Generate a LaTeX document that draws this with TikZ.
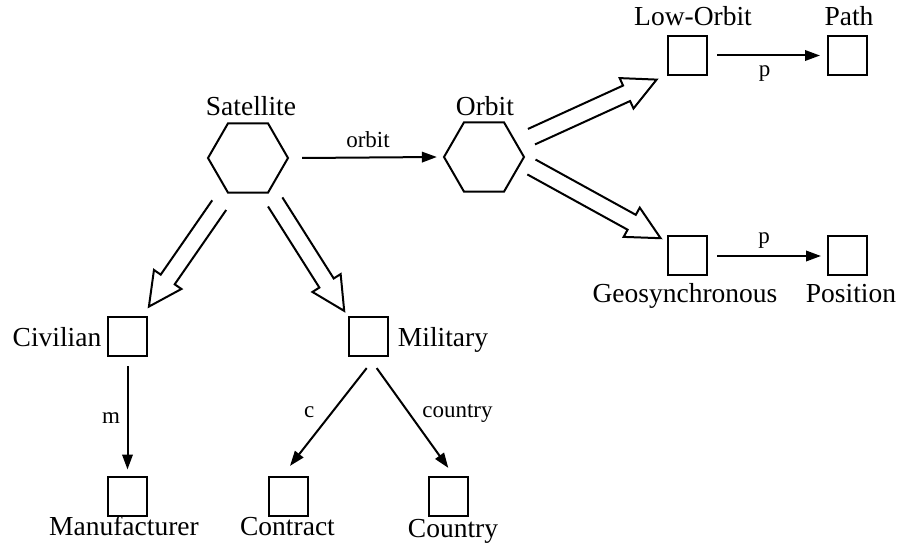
\documentclass[tikz,border=0pt]{standalone}
\usepackage{fontspec}
\setmainfont{Liberation Serif}
\usetikzlibrary{shapes.geometric,arrows.meta,calc}

% Outlined (hollow) generalisation arrow from tail point #1 to tip point #2
\newcommand{\hollowarrow}[2]{%
  \coordinate (#1-neck) at ($(#2)!33pt!(#1)$);
  \draw[hollowtip] ($(#1)!8.5pt!90:(#2)$)
    -- ($(#1-neck)!8.5pt!90:(#2)$)
    -- ($(#1-neck)!16.7pt!90:(#2)$)
    -- (#2)
    -- ($(#1-neck)!16.7pt!-90:(#2)$)
    -- ($(#1-neck)!8.5pt!-90:(#2)$)
    -- ($(#1)!8.5pt!-90:(#2)$);}

\begin{document}
\begin{tikzpicture}[x=1pt,y=-1pt,line width=2pt,
  classbox/.style={draw,minimum size=39pt,inner sep=0pt},
  classhex/.style={draw,regular polygon,regular polygon sides=6,minimum size=80pt,inner sep=0pt},
  clsname/.style={font=\fontsize{27.5}{30}\selectfont,inner sep=0pt,anchor=base},
  rolelbl/.style={font=\fontsize{23}{26}\selectfont,inner sep=0pt,anchor=base},
  conn/.style={-{Triangle[length=15pt,width=10.5pt]}},
  hollowtip/.style={line join=miter}]
\useasboundingbox (0,0) rectangle (900,556);

% classes
\node[classhex] (sat) at (248,158) {};
\node[classhex] (orb) at (484,157) {};
\node[classbox] (civ) at (127.5,336) {};
\node[classbox] (mil) at (368,336) {};
\node[classbox] (man) at (127.5,496) {};
\node[classbox] (con) at (288,496) {};
\node[classbox] (cou) at (448,496) {};
\node[classbox] (low) at (687.5,55.5) {};
\node[classbox] (pth) at (847.5,55.5) {};
\node[classbox] (geo) at (687.5,256) {};
\node[classbox] (pos) at (847.5,256) {};

% class names
\node[clsname] (satL) at (251,116) {Satellite};
\node[clsname] (orbL) at (485,116) {Orbit};
\node[clsname] (lowL) at (693,26) {Low-Orbit};
\node[clsname] (pthL) at (849,26) {Path};
\node[clsname] (geoL) at (685,302) {Geosynchronous};
\node[clsname] (posL) at (851,302) {Position};
\node[clsname] (civL) at (57,346) {Civilian};
\node[clsname] (milL) at (443,346) {Military};
\node[clsname] (manL) at (124,535) {Manufacturer};
\node[clsname] (conL) at (287.5,535) {Contract};
\node[clsname] (couL) at (453,537) {Country};

% roles
\draw[conn] ($(sat.east)+(13,0)$) --
  node[rolelbl,xshift=-1.5pt,yshift=10pt] {orbit} ($(orb.west)+(-6,0)$);
\draw[conn] ($(low.east)+(9,0)$) --
  node[rolelbl,xshift=-4pt,yshift=-21pt] {p} ($(pth.west)+(-7,0)$);
\draw[conn] ($(geo.east)+(9,0)$) --
  node[rolelbl,xshift=-5pt,yshift=12pt] {p} ($(pos.west)+(-6,0)$);
\draw[conn] ($(civ.south)+(0,9.6)$) --
  node[rolelbl,xshift=-16.5pt,yshift=-6pt] {m} ($(man.north)+(0,-6)$);
\draw[conn] ($(mil.south)+(-1.3,11.6)$) --
  node[rolelbl,xshift=-19pt,yshift=0pt] {c} ($(con.north)+(2,-9.6)$);
\draw[conn] ($(mil.south)+(8.7,11.6)$) --
  node[rolelbl,xshift=45pt,yshift=1pt] {country} ($(cou.north)+(0.3,-7.6)$);

% specialisations
\coordinate (t1) at ($(sat.south)+(-28.8,11.5)$);
\coordinate (h1) at ($(civ.north east)+(0.9,-8.9)$);
\coordinate (t2) at ($(sat.south)+(27.2,8.3)$);
\coordinate (h2) at ($(mil.north west)+(-3.3,-4.6)$);
\coordinate (t3) at ($(orb.east)+(6.3,-20.3)$);
\coordinate (h3) at ($(low.south west)+(-10.4,3.6)$);
\coordinate (t4) at ($(orb.east)+(6.3,10)$);
\coordinate (h4) at ($(geo.north west)+(-6.4,2.7)$);
\hollowarrow{t1}{h1}
\hollowarrow{t2}{h2}
\hollowarrow{t3}{h3}
\hollowarrow{t4}{h4}
\end{tikzpicture}
\end{document}
